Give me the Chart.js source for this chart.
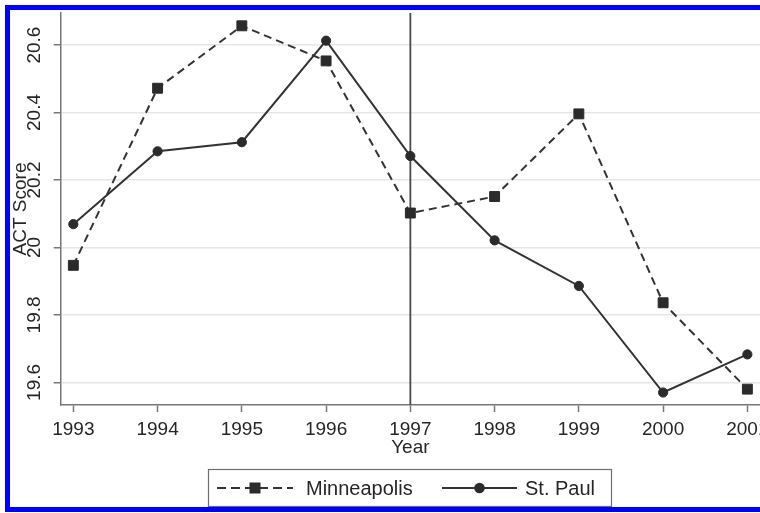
<!DOCTYPE html>
<html>
<head>
<meta charset="utf-8">
<script src="https://cdn.jsdelivr.net/npm/chart.js@4/dist/chart.umd.min.js"></script>
<style>
  html, body { margin: 0; padding: 0; width: 760px; height: 513px; overflow: hidden; background: #fff; }
  #wrap { position: absolute; left: 0; top: 0; width: 800px; height: 513px; }
  #frame { position: absolute; left: 5px; top: 5px; width: 800px; height: 497px; border: 5px solid #0000ff; pointer-events: none; }
</style>
</head>
<body>
<div id="wrap"><canvas id="myChart"></canvas></div>
<div id="frame"></div>
<script>
// DATA
const anni = [1993, 1994, 1995, 1996, 1997, 1998, 1999, 2000, 2001];
const minneapolis = [19.947, 20.472, 20.657, 20.553, 20.102, 20.151, 20.396, 19.836, 19.580];
const stPaul = [20.069, 20.285, 20.312, 20.613, 20.271, 20.021, 19.886, 19.570, 19.683];
const tickY = [19.6, 19.8, 20, 20.2, 20.4, 20.6];
const annoRiferimento = 1997;

const chart = document.getElementById('myChart');
const testo = '#262626';
const assi = '#777777';
Chart.defaults.font.family = '"Liberation Sans", Arial, sans-serif';

function punti(valori) {
  return anni.map((a, i) => ({x: a, y: valori[i]}));
}

// vertical reference line at 1997
const lineaVerticale = {
  id: 'lineaVerticale',
  beforeDatasetsDraw(c) {
    const {ctx, chartArea, scales} = c;
    const x = scales.x.getPixelForValue(annoRiferimento);
    ctx.save();
    ctx.strokeStyle = '#4a4a4a';
    ctx.lineWidth = 1.8;
    ctx.beginPath();
    ctx.moveTo(x, chartArea.top);
    ctx.lineTo(x, chartArea.bottom);
    ctx.stroke();
    ctx.restore();
  }
};

// boxed legend with line + marker samples
const legendaBox = {
  id: 'legendaBox',
  afterDraw(c) {
    const ctx = c.ctx;
    const voci = [{x0: 217, x1: 293, tx: 306}, {x0: 442, x1: 517, tx: 525}];
    const y = 488;
    ctx.save();
    ctx.strokeStyle = '#6e6e6e';
    ctx.lineWidth = 1.2;
    ctx.strokeRect(208.5, 469.5, 403, 37);
    c.data.datasets.forEach((ds, i) => {
      const v = voci[i];
      ctx.strokeStyle = ds.borderColor;
      ctx.lineWidth = ds.borderWidth;
      ctx.setLineDash(ds.legendDash || []);
      ctx.beginPath();
      ctx.moveTo(v.x0, y);
      ctx.lineTo(v.x1, y);
      ctx.stroke();
      ctx.setLineDash([]);
      const cx = (v.x0 + v.x1) / 2;
      ctx.fillStyle = ds.pointBackgroundColor;
      if (ds.pointStyle === 'rect') {
        ctx.fillRect(cx - 5.5, y - 5.5, 11, 11);
      } else {
        ctx.beginPath();
        ctx.arc(cx, y, 5.3, 0, Math.PI * 2);
        ctx.fill();
      }
      ctx.fillStyle = testo;
      ctx.font = '20px "Liberation Sans", Arial, sans-serif';
      ctx.textBaseline = 'middle';
      ctx.fillText(ds.label, v.tx, y + 1);
    });
    ctx.restore();
  }
};

new Chart(chart, {
  type: 'line',
  data: {
    datasets: [{
      label: 'Minneapolis',
      data: punti(minneapolis),
      borderColor: '#333333',
      borderWidth: 2,
      borderDash: [8, 5],
      legendDash: [9, 5],
      pointStyle: 'rect',
      pointRadius: 7,
      pointBorderWidth: 1,
      pointBackgroundColor: '#2b2b2b',
      pointBorderColor: '#2b2b2b'
    }, {
      label: 'St. Paul',
      data: punti(stPaul),
      borderColor: '#333333',
      borderWidth: 2,
      pointStyle: 'circle',
      pointRadius: 4.6,
      pointBorderWidth: 1,
      pointBackgroundColor: '#2b2b2b',
      pointBorderColor: '#2b2b2b'
    }]
  },
  options: {
    responsive: true,
    maintainAspectRatio: false,
    animation: false,
    events: [],
    layout: {padding: {left: 11.5, top: 13, right: 40, bottom: 55.5}},
    plugins: {
      legend: {display: false},
      tooltip: {enabled: false}
    },
    scales: {
      x: {
        type: 'linear',
        min: 1992.85,
        max: 2001.15,
        afterBuildTicks: s => { s.ticks = anni.map(v => ({value: v})); },
        border: {display: true, color: assi, width: 1.5},
        grid: {drawOnChartArea: false, tickColor: assi, tickLength: 7, tickWidth: 1.5},
        ticks: {
          padding: 8, color: testo, autoSkip: false, maxRotation: 0,
          font: {size: 19, lineHeight: 1},
          callback: v => String(v)
        },
        title: {
          display: true, text: 'Year', color: testo,
          font: {size: 19, lineHeight: 1},
          padding: {top: -8.5, bottom: 0}
        }
      },
      y: {
        min: 19.533,
        max: 20.695,
        afterBuildTicks: s => { s.ticks = tickY.map(v => ({value: v})); },
        border: {display: true, color: assi, width: 1.5},
        grid: {color: '#e6e6e6', lineWidth: 1.5, tickColor: assi, tickLength: 7, tickWidth: 1.5},
        ticks: {
          minRotation: 90, maxRotation: 90, crossAlign: 'center', padding: 0,
          color: testo, font: {size: 19, lineHeight: 1},
          callback: v => String(v)
        },
        title: {
          display: true, text: 'ACT Score', color: testo,
          font: {size: 19, lineHeight: 1},
          padding: {top: 0, bottom: 4.2}
        }
      }
    }
  },
  plugins: [lineaVerticale, legendaBox]
});
</script>
</body>
</html>
